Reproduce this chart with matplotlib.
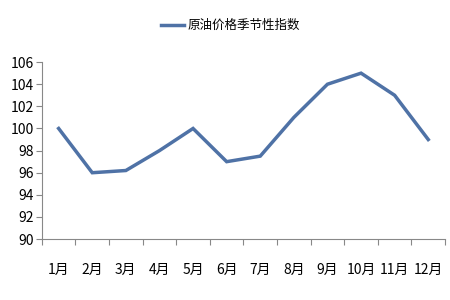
import numpy as np
import matplotlib.pyplot as plt

plt.rcParams['font.family'] = ['Liberation Sans Narrow', 'Noto Sans CJK SC', 'DejaVu Sans']

months = ['1月', '2月', '3月', '4月', '5月', '6月', '7月', '8月', '9月', '10月', '11月', '12月']
index_vals = [100, 96, 96.2, 98, 100, 97, 97.5, 101, 104, 105, 103, 99]
series_name = '原油价格季节性指数'

fig = plt.figure(figsize=(4.5, 3), dpi=100)
ax = fig.add_axes([0.093, 0.203, 0.896, 0.59])

x = np.arange(len(months))
ax.plot(x, index_vals, color='#4F72A6', lw=2.5, label=series_name, solid_joinstyle='miter')

ax.set_ylim(90, 106)
ax.set_yticks(np.arange(90, 107, 2))
ax.set_xlim(-0.5, len(months) - 0.5)
ax.set_xticks(np.arange(-0.5, len(months), 1))
ax.set_xticklabels([])
ax.set_xticks(x, minor=True)
ax.set_xticklabels(months, minor=True)
ax.tick_params(axis='x', which='minor', length=0, pad=17, labelsize=10)
ax.tick_params(axis='x', which='major', length=4, color='#888888')
ax.tick_params(axis='y', length=4, color='#888888', labelsize=10, pad=2)

for s in ['top', 'right']:
    ax.spines[s].set_visible(False)
for s in ['left', 'bottom']:
    ax.spines[s].set_color('#888888')

fig.legend(loc='center', bbox_to_anchor=(0.513, 0.915), frameon=False,
           handlelength=1.8, handletextpad=0.3,
           prop={'family': ['Noto Sans CJK SC'], 'size': 9})

fig.savefig('out.png', dpi=100)
